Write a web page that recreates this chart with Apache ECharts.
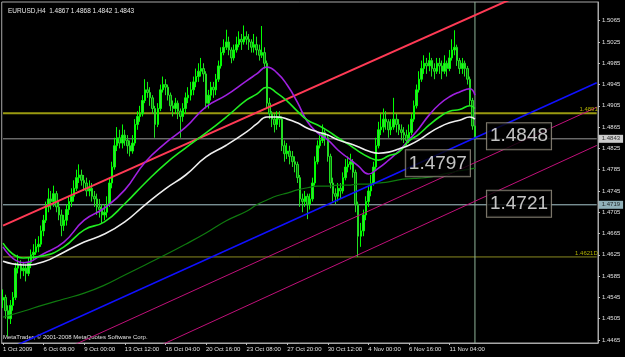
<!DOCTYPE html>
<html><head><meta charset="utf-8">
<style>html,body{margin:0;padding:0;background:#000;}#c{width:625px;height:357px;}</style>
<script src="https://cdn.jsdelivr.net/npm/echarts@6/dist/echarts.min.js"></script>
</head><body><div id="c"></div>
<script>
const xLabels = ['1 Oct 2009','6 Oct 08:00','9 Oct 00:00','13 Oct 12:00','16 Oct 04:00','20 Oct 16:00','23 Oct 08:00','27 Oct 20:00','30 Oct 12:00','4 Nov 00:00','6 Nov 16:00','11 Nov 04:00'];
const yTicks = [1.4465,1.4505,1.4545,1.4585,1.4625,1.4665,1.4705,1.4745,1.4785,1.4825,1.4865,1.4905,1.4945,1.4985,1.5025,1.5065];
const opens = [
1.4540,1.4545,1.4520,1.4505,1.4530,1.4545,1.4600,1.4605,1.4595,1.4600,
1.4590,1.4610,1.4625,1.4630,1.4640,1.4645,1.4670,1.4690,1.4715,1.4730,
1.4725,1.4740,1.4715,1.4700,1.4680,1.4690,1.4710,1.4725,1.4735,1.4750,
1.4770,1.4775,1.4765,1.4760,1.4745,1.4750,1.4735,1.4730,1.4715,1.4710,
1.4700,1.4705,1.4720,1.4760,1.4790,1.4830,1.4845,1.4835,1.4850,1.4840,
1.4830,1.4820,1.4835,1.4870,1.4885,1.4890,1.4915,1.4935,1.4930,1.4920,
1.4900,1.4870,1.4900,1.4935,1.4945,1.4940,1.4925,1.4905,1.4900,1.4910,
1.4895,1.4885,1.4900,1.4920,1.4925,1.4935,1.4950,1.4960,1.4970,1.4975,
1.4965,1.4910,1.4925,1.4940,1.4935,1.4955,1.4980,1.5005,1.5015,1.5025,
1.5010,1.4995,1.5010,1.5020,1.5030,1.5025,1.5035,1.5030,1.5025,1.5015,
1.5020,1.5010,1.5000,1.5005,1.4985,1.4910,1.4890,1.4880,1.4870,1.4885,
1.4880,1.4830,1.4815,1.4820,1.4810,1.4800,1.4795,1.4770,1.4730,1.4725,
1.4735,1.4720,1.4730,1.4760,1.4800,1.4830,1.4840,1.4855,1.4845,1.4810,
1.4760,1.4740,1.4735,1.4750,1.4745,1.4770,1.4790,1.4795,1.4800,1.4780,
1.4720,1.4660,1.4670,1.4700,1.4725,1.4745,1.4760,1.4790,1.4830,1.4860,
1.4865,1.4880,1.4875,1.4860,1.4865,1.4880,1.4870,1.4860,1.4855,1.4850,
1.4840,1.4855,1.4880,1.4905,1.4935,1.4955,1.4975,1.4985,1.4980,1.4990,
1.4975,1.4970,1.4985,1.4980,1.4970,1.4985,1.4975,1.4995,1.5010,1.5015,
1.4990,1.4975,1.4985,1.4975,1.4955,1.4915,1.4867];
const closes = [
1.4545,1.4520,1.4505,1.4530,1.4545,1.4600,1.4605,1.4595,1.4600,1.4590,
1.4610,1.4625,1.4630,1.4640,1.4645,1.4670,1.4690,1.4715,1.4730,1.4725,
1.4740,1.4715,1.4700,1.4680,1.4690,1.4710,1.4725,1.4735,1.4750,1.4770,
1.4775,1.4765,1.4760,1.4745,1.4750,1.4735,1.4730,1.4715,1.4710,1.4700,
1.4705,1.4720,1.4760,1.4790,1.4830,1.4845,1.4835,1.4850,1.4840,1.4830,
1.4820,1.4835,1.4870,1.4885,1.4890,1.4915,1.4935,1.4930,1.4920,1.4900,
1.4870,1.4900,1.4935,1.4945,1.4940,1.4925,1.4905,1.4900,1.4910,1.4895,
1.4885,1.4900,1.4920,1.4925,1.4935,1.4950,1.4960,1.4970,1.4975,1.4965,
1.4910,1.4925,1.4940,1.4935,1.4955,1.4980,1.5005,1.5015,1.5025,1.5010,
1.4995,1.5010,1.5020,1.5030,1.5025,1.5035,1.5030,1.5025,1.5015,1.5020,
1.5010,1.5000,1.5005,1.4985,1.4910,1.4890,1.4880,1.4870,1.4885,1.4880,
1.4830,1.4815,1.4820,1.4810,1.4800,1.4795,1.4770,1.4730,1.4725,1.4735,
1.4720,1.4730,1.4760,1.4800,1.4830,1.4840,1.4855,1.4845,1.4810,1.4760,
1.4740,1.4735,1.4750,1.4745,1.4770,1.4790,1.4795,1.4800,1.4780,1.4720,
1.4660,1.4670,1.4700,1.4725,1.4745,1.4760,1.4790,1.4830,1.4860,1.4865,
1.4880,1.4875,1.4860,1.4865,1.4880,1.4870,1.4860,1.4855,1.4850,1.4840,
1.4855,1.4880,1.4905,1.4935,1.4955,1.4975,1.4985,1.4980,1.4990,1.4975,
1.4970,1.4985,1.4980,1.4970,1.4985,1.4975,1.4995,1.5010,1.5015,1.4990,
1.4975,1.4985,1.4975,1.4955,1.4915,1.4867,1.4843];
const highs = [
1.4560,1.4550,1.4530,1.4540,1.4555,1.4610,1.4625,1.4615,1.4612,1.4608,
1.4620,1.4635,1.4645,1.4655,1.4660,1.4680,1.4700,1.4725,1.4750,1.4745,
1.4755,1.4745,1.4725,1.4710,1.4700,1.4720,1.4735,1.4750,1.4765,1.4785,
1.4795,1.4785,1.4775,1.4770,1.4765,1.4760,1.4745,1.4740,1.4730,1.4720,
1.4720,1.4735,1.4770,1.4800,1.4845,1.4865,1.4860,1.4870,1.4860,1.4850,
1.4840,1.4850,1.4880,1.4895,1.4905,1.4925,1.4955,1.4950,1.4940,1.4925,
1.4905,1.4910,1.4945,1.4960,1.4955,1.4945,1.4930,1.4915,1.4920,1.4915,
1.4900,1.4910,1.4930,1.4940,1.4950,1.4960,1.4975,1.4985,1.4995,1.4985,
1.4970,1.4935,1.4950,1.4950,1.4965,1.4990,1.5015,1.5030,1.5048,1.5035,
1.5015,1.5020,1.5035,1.5045,1.5040,1.5056,1.5045,1.5040,1.5030,1.5040,
1.5035,1.5020,1.5055,1.5015,1.4990,1.4920,1.4895,1.4890,1.4895,1.4895,
1.4885,1.4840,1.4835,1.4830,1.4820,1.4810,1.4800,1.4775,1.4740,1.4745,
1.4740,1.4740,1.4770,1.4810,1.4840,1.4855,1.4870,1.4860,1.4850,1.4815,
1.4770,1.4750,1.4760,1.4760,1.4780,1.4805,1.4810,1.4815,1.4805,1.4785,
1.4725,1.4685,1.4710,1.4735,1.4755,1.4775,1.4800,1.4845,1.4875,1.4890,
1.4900,1.4895,1.4880,1.4880,1.4920,1.4890,1.4880,1.4870,1.4865,1.4860,
1.4870,1.4890,1.4915,1.4945,1.4970,1.4990,1.5000,1.4995,1.5005,1.4995,
1.4985,1.4995,1.4995,1.4990,1.5000,1.4990,1.5010,1.5030,1.5047,1.5020,
1.4995,1.4995,1.4990,1.4980,1.4960,1.4920,1.4868];
const lows = [
1.4525,1.4505,1.4472,1.4495,1.4520,1.4540,1.4590,1.4580,1.4585,1.4575,
1.4585,1.4600,1.4615,1.4625,1.4630,1.4640,1.4660,1.4685,1.4705,1.4710,
1.4715,1.4705,1.4690,1.4660,1.4670,1.4680,1.4700,1.4715,1.4725,1.4745,
1.4760,1.4755,1.4745,1.4735,1.4735,1.4725,1.4715,1.4700,1.4695,1.4685,
1.4690,1.4695,1.4715,1.4750,1.4785,1.4820,1.4825,1.4825,1.4830,1.4815,
1.4810,1.4815,1.4830,1.4860,1.4875,1.4885,1.4910,1.4920,1.4905,1.4890,
1.4845,1.4865,1.4895,1.4930,1.4925,1.4915,1.4895,1.4885,1.4890,1.4880,
1.4845,1.4875,1.4890,1.4910,1.4915,1.4925,1.4940,1.4950,1.4960,1.4950,
1.4900,1.4900,1.4915,1.4920,1.4925,1.4950,1.4975,1.5000,1.5010,1.5000,
1.4985,1.4990,1.5005,1.5015,1.5010,1.5020,1.5020,1.5010,1.5005,1.5005,
1.5000,1.4990,1.4995,1.4975,1.4900,1.4880,1.4865,1.4855,1.4860,1.4865,
1.4820,1.4800,1.4805,1.4795,1.4790,1.4780,1.4760,1.4715,1.4705,1.4715,
1.4692,1.4710,1.4725,1.4755,1.4795,1.4825,1.4835,1.4830,1.4800,1.4750,
1.4725,1.4720,1.4725,1.4730,1.4740,1.4765,1.4780,1.4785,1.4770,1.4705,
1.4621,1.4640,1.4660,1.4690,1.4715,1.4735,1.4755,1.4785,1.4825,1.4850,
1.4855,1.4860,1.4845,1.4850,1.4860,1.4855,1.4850,1.4840,1.4835,1.4830,
1.4835,1.4850,1.4875,1.4900,1.4930,1.4950,1.4965,1.4965,1.4970,1.4960,
1.4955,1.4965,1.4965,1.4955,1.4965,1.4960,1.4970,1.4990,1.5000,1.4980,
1.4965,1.4965,1.4960,1.4945,1.4905,1.4860,1.4842];
// moving averages sampled at bar indices
const maBars = [0,8,16,24,32,40,48,56,64,72,80,88,96,100,104,108,112,116,120,124,128,132,136,140,144,148,152,156,160,164,168,172,176,180,184,186];
const maViolet = [1.4640,1.4610,1.4627,1.4649,1.4690,1.4713,1.4747,1.4799,1.4835,1.4865,1.4903,1.4925,1.4952,1.4965,1.4978,1.4967,1.4944,1.4912,1.4875,1.4854,1.4841,1.4822,1.4807,1.4792,1.4777,1.4788,1.4803,1.4820,1.4841,1.4863,1.4888,1.4908,1.4922,1.4931,1.4937,1.4925];
const maLime = [1.4647,1.4619,1.4623,1.4640,1.4672,1.4687,1.4721,1.4760,1.4796,1.4826,1.4854,1.4884,1.4916,1.4927,1.4940,1.4929,1.4914,1.4895,1.4878,1.4869,1.4858,1.4845,1.4833,1.4820,1.4809,1.4803,1.4811,1.4818,1.4839,1.4852,1.4869,1.4884,1.4895,1.4898,1.4905,1.4900];
const maWhite = [1.4613,1.4606,1.4612,1.4630,1.4649,1.4664,1.4687,1.4719,1.4749,1.4775,1.4809,1.4831,1.4856,1.4871,1.4884,1.4884,1.4880,1.4873,1.4863,1.4856,1.4850,1.4841,1.4835,1.4828,1.4820,1.4816,1.4818,1.4824,1.4831,1.4841,1.4854,1.4865,1.4873,1.4878,1.4884,1.4880];
const maGreen = [1.4508,1.4519,1.4531,1.4542,1.4553,1.4568,1.4587,1.4606,1.4625,1.4645,1.4666,1.4689,1.4707,1.4719,1.4728,1.4736,1.4741,1.4747,1.4751,1.4754,1.4754,1.4756,1.4756,1.4758,1.4758,1.4760,1.4762,1.4766,1.4768,1.4769,1.4771,1.4775,1.4779,1.4783,1.4786,1.4788];
// trend lines: two anchors each (bar index, price)
const redBars = [0,160], redPrices = [1.4680,1.5020];
const blueBars = [156,226], bluePrices = [1.4780,1.4931];
const chanABars = [60,220], chanAPrices = [1.4525,1.4872];
const chanBBars = [80,220], chanBPrices = [1.4494,1.4800];
// horizontal lines
const hPrices = [1.4891,1.4843,1.4719,1.4621];
const hTexts = ['1.4891','','','1.4621D'];
const vLineBar = 186;
// price labels
const plPrices = [1.4848,1.4797,1.4721];
const plBars = [186,186,186];
const axisTags = [1.4843,1.4719];

const N = 235;
const YMIN = 1.44593, YMAX = 1.51001;
const cats = [];
for (let i = 0; i < N; i++) cats.push(i % 16 === 0 && xLabels[i/16] ? xLabels[i/16] : '');
const candles = opens.map((o,i)=>[o, closes[i], lows[i], highs[i]]);
const maData = arr => maBars.map((b,i)=>[b, arr[i]]);
function ext(bars, prices){
  const s = (prices[1]-prices[0])/(bars[1]-bars[0]);
  return [[0, prices[0] + s*(0-bars[0])],[N-1, prices[0] + s*(N-1-bars[0])]];
}
const F = 'Liberation Sans, Arial, sans-serif';
const chart = echarts.init(document.getElementById('c'), null, {renderer:'canvas'});
const hColors = ['#9a9a10','#9a9a9a','#a9c9cf','#8a8a20'];
const hWidths = [2,1,1,1];
const hSeries = hPrices.map((p,i)=>({type:'line', data:[[0,p],[N-1,p]], symbol:'none', z:1,
  lineStyle:{color:hColors[i], width:hWidths[i]}, silent:true}));
const hTextSeries = {type:'scatter', symbolSize:0, z:11, silent:true,
  data: hPrices.map((p,i)=>({value:[N-1,p], label:{show:hTexts[i]!=='', formatter:hTexts[i], position:[1,-1],
    color:'#d8d800', fontSize:6, fontFamily:F, align:'right', verticalAlign:'bottom'}}))};
chart.setOption({
  backgroundColor:'#000',
  animation:false,
  title:{text:'EURUSD,H4  1.4867 1.4868 1.4842 1.4843', left:3, top:3, textStyle:{color:'#e8e8e8', fontSize:6.5, fontWeight:'normal', fontFamily:F}},
  graphic:[{type:'text', left:3, top:334, style:{text:'MetaTrader, © 2001-2008 MetaQuotes Software Corp.', fill:'#e0e0e0', font:'6px '+F}}],
  grid:{left:0, right:27, top:2, bottom:14, show:true, borderColor:'#a8a8a8', borderWidth:1, backgroundColor:'transparent'},
  xAxis:{type:'category', data:cats, boundaryGap:true,
    axisLine:{show:true, lineStyle:{color:'#a8a8a8'}},
    axisTick:{show:true, alignWithLabel:true, length:2, interval:(i,v)=>v!=='', lineStyle:{color:'#c0c0c0'}},
    axisLabel:{interval:(i,v)=>v!=='', align:'left', color:'#e0e0e0', fontSize:6, fontFamily:F, margin:3, hideOverlap:false},
    splitLine:{show:false}},
  yAxis:{type:'value', position:'right', min:YMIN, max:YMAX, scale:true,
    axisLine:{show:true, lineStyle:{color:'#a8a8a8'}},
    axisTick:{show:true, length:2, customValues:yTicks, lineStyle:{color:'#c0c0c0'}},
    axisLabel:{color:'#e0e0e0', fontSize:6, fontFamily:F, margin:4, customValues:yTicks, formatter:v=>v.toFixed(4)},
    splitLine:{show:false}},
  series: hSeries.concat([
    {type:'line', data:[[vLineBar,YMIN],[vLineBar,YMAX]], symbol:'none', z:1, silent:true, lineStyle:{color:'#8fb49a', width:1}},
    {type:'candlestick', data:candles, barWidth:2, z:2,
      itemStyle:{color:'#3ed63e', color0:'#0a700a', borderColor:'#00ff00', borderColor0:'#22dd22', borderWidth:1}},
    {type:'line', data:ext(chanABars,chanAPrices), symbol:'none', lineStyle:{color:'#c0107a', width:1}, z:3},
    {type:'line', data:ext(chanBBars,chanBPrices), symbol:'none', lineStyle:{color:'#c0107a', width:1}, z:3},
    {type:'line', data:maData(maGreen), symbol:'none', smooth:true, lineStyle:{color:'#0f7a0f', width:1.2}, z:4},
    {type:'line', data:ext(blueBars,bluePrices), symbol:'none', lineStyle:{color:'#1010ff', width:1.6}, z:5},
    {type:'line', data:ext(redBars,redPrices), symbol:'none', lineStyle:{color:'#ff3a55', width:2}, z:5},
    {type:'line', data:maData(maViolet), symbol:'none', smooth:true, lineStyle:{color:'#a020e0', width:1.6}, z:6},
    {type:'line', data:maData(maLime), symbol:'none', smooth:true, lineStyle:{color:'#20ee20', width:1.6}, z:6},
    {type:'line', data:maData(maWhite), symbol:'none', smooth:true, lineStyle:{color:'#eeeeee', width:1.6}, z:6},
    hTextSeries,
    {type:'scatter', symbolSize:0, z:10, data: plPrices.map((p,i)=>({value:[plBars[i], p],
        label:{show:true, formatter:p.toFixed(4), position: i===1 ? 'left' : 'right', distance: i===1 ? 5 : 12,
          color:'#f4f4f4', fontSize:19, fontFamily:F, backgroundColor:'#000', borderColor:'#a09a8a', borderWidth:1, padding:[3,3,2,3], lineHeight:21}}))},
    {type:'scatter', symbolSize:0, z:10, clip:false, data: axisTags.map((p,i)=>({value:[N-1, p],
        label:{show:true, formatter:p.toFixed(4), position:'right', distance:2, color:'#000', fontSize:6, fontFamily:F,
          backgroundColor: i===0 ? '#ffffff' : '#b4dce6', padding:[1,3,0,3], lineHeight:7}}))}
  ])
});
</script></body></html>
